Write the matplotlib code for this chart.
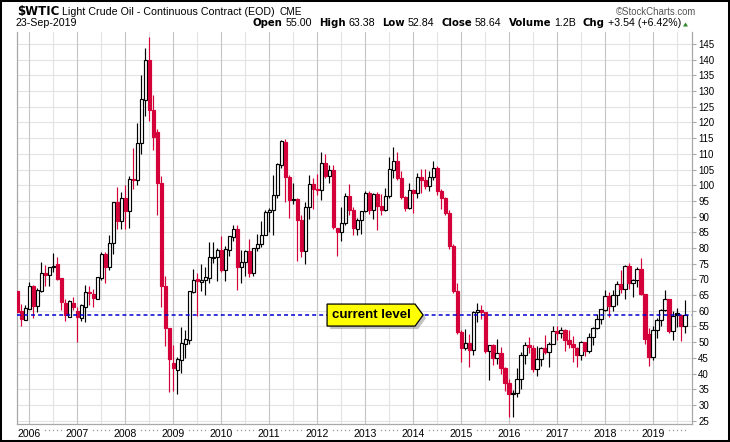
import matplotlib
matplotlib.use("Agg")
import matplotlib.pyplot as plt
from matplotlib.patches import Polygon, Rectangle
from matplotlib.transforms import IdentityTransform
import numpy as np
import pandas as pd

# ---------------- data ----------------
symbol = "$WTIC"
title = "Light Crude Oil - Continuous Contract (EOD)"
exchange = "CME"
credit = "\u00a9StockCharts.com"
date_label = "23-Sep-2019"
stat_labels = ["Open", "High", "Low", "Close", "Volume", "Chg"]
stat_values = ["55.00", "63.38", "52.84", "58.64", "1.2B", "+3.54 (+6.42%)"]
first_month = "2005-10"
year_labels = [str(y) for y in range(2006, 2020)]
ytick_values = list(range(25, 150, 5))
current_level = 58.64
callout_text = "current level"

opens = [
    66.2, 59.8, 57.0,
    60.6, 67.9, 61.4, 66.2, 72.0, 71.3, 73.9, 74.9, 70.3, 62.4, 58.1, 62.4,
    60.0, 57.6, 61.3, 65.9, 65.5, 63.7, 70.4, 78.0, 74.0, 81.6, 94.5, 88.7,
    96.0, 91.8, 101.8, 101.6, 113.5, 127.0, 140.0, 124.1, 117.0, 100.6, 67.8, 54.4,
    43.5, 41.2, 44.3, 49.3, 50.7, 66.1, 70.0, 69.2, 69.7, 70.4, 76.7, 77.1,
    79.4, 72.9, 79.4, 83.6, 86.0, 74.0, 75.6, 79.0, 71.9, 80.0, 81.4, 84.1,
    91.4, 92.2, 97.0, 106.4, 113.7, 102.7, 95.4, 95.7, 88.8, 79.2, 93.2, 100.4,
    98.8, 98.5, 107.1, 103.0, 104.9, 86.5, 85.0, 88.1, 96.5, 92.2, 86.2, 88.9,
    91.8, 97.5, 92.1, 97.2, 93.5, 92.0, 96.6, 105.0, 107.7, 102.3, 96.4, 92.7,
    98.4, 97.5, 102.6, 101.6, 99.7, 102.7, 105.4, 98.2, 96.0, 91.2, 80.5, 66.2,
    53.3, 48.2, 49.8, 47.6, 59.6, 60.3, 59.5, 47.1, 49.2, 45.1, 46.6, 41.7,
    37.0, 33.6, 33.8, 38.3, 45.9, 49.1, 48.3, 41.6, 44.7, 48.2, 46.9, 49.4,
    53.7, 52.8, 54.0, 50.6, 49.3, 48.3, 46.0, 50.2, 47.2, 51.7, 54.4, 57.4,
    60.4, 64.7, 61.6, 64.9, 68.6, 67.0, 74.2, 68.8, 69.8, 73.3, 65.3, 52.5,
    45.4, 53.8, 57.2, 60.1, 63.9, 53.5, 59.2, 58.6, 55.0,
]
highs = [
    66.6, 62.1, 61.9,
    69.2, 68.2, 67.1, 75.4, 74.7, 74.0, 78.4, 77.1, 70.4, 63.9, 63.4, 64.3,
    61.1, 62.3, 68.1, 67.9, 66.9, 70.7, 78.8, 78.8, 84.1, 94.7, 99.3, 97.8,
    100.1, 103.0, 111.8, 119.9, 135.1, 143.7, 147.3, 128.6, 118.0, 103.0, 71.1, 54.5,
    49.0, 45.2, 54.7, 54.0, 66.4, 73.4, 72.1, 75.0, 74.0, 82.0, 82.0, 80.0,
    83.9, 80.5, 83.9, 87.2, 87.2, 79.4, 79.4, 82.8, 80.0, 84.4, 88.6, 92.0,
    92.6, 103.4, 107.0, 114.3, 114.7, 103.4, 100.6, 95.8, 90.5, 94.7, 103.4, 102.4,
    103.7, 110.6, 110.0, 106.4, 106.4, 86.5, 92.9, 97.4, 100.4, 93.0, 89.6, 91.8,
    98.2, 98.2, 97.4, 97.8, 97.3, 99.0, 108.9, 112.2, 110.7, 104.4, 96.6, 100.8,
    98.8, 104.0, 105.2, 105.2, 104.5, 107.7, 106.0, 98.9, 96.2, 92.0, 81.4, 69.0,
    54.0, 54.2, 52.5, 59.9, 62.6, 61.8, 59.6, 49.2, 49.5, 50.9, 48.4, 42.0,
    38.4, 34.7, 41.9, 46.8, 50.2, 51.7, 49.0, 48.8, 48.4, 52.2, 49.9, 55.0,
    55.2, 54.9, 54.3, 53.8, 52.0, 48.4, 50.4, 50.2, 52.9, 54.9, 59.1, 60.5,
    66.7, 66.0, 66.6, 69.6, 72.9, 74.5, 75.3, 70.2, 73.9, 76.9, 65.4, 54.6,
    55.1, 57.8, 60.7, 66.6, 63.9, 59.9, 60.9, 58.8, 63.38,
]
lows = [
    59.2, 55.2, 57.0,
    60.5, 57.6, 59.5, 65.9, 68.0, 68.0, 72.4, 69.9, 60.4, 56.6, 57.9, 60.2,
    49.9, 56.6, 56.5, 61.9, 61.2, 63.7, 69.8, 69.0, 73.0, 78.1, 86.0, 85.9,
    86.1, 86.5, 98.7, 100.1, 109.9, 122.1, 120.4, 111.3, 90.5, 61.3, 48.8, 34.0,
    34.5, 33.6, 40.2, 45.0, 49.3, 65.6, 58.3, 66.4, 65.0, 68.9, 75.2, 69.5,
    72.4, 69.5, 77.6, 82.1, 66.5, 69.0, 71.1, 70.8, 71.0, 79.0, 80.2, 84.0,
    85.1, 84.1, 96.0, 105.5, 94.6, 89.6, 94.0, 75.7, 77.1, 75.0, 89.2, 92.5,
    97.0, 95.4, 102.2, 100.7, 86.1, 77.3, 82.3, 87.4, 90.5, 84.1, 84.1, 84.6,
    91.6, 90.9, 89.3, 85.6, 90.4, 91.8, 96.0, 102.2, 101.6, 95.7, 91.8, 92.4,
    91.2, 96.0, 97.4, 98.9, 98.2, 101.7, 96.8, 92.5, 90.4, 79.8, 65.7, 52.7,
    43.6, 47.4, 42.0, 45.9, 56.5, 57.4, 46.7, 37.8, 42.6, 43.2, 40.0, 34.5,
    26.2, 26.1, 32.5, 35.2, 43.0, 46.7, 40.6, 39.2, 42.5, 46.3, 42.2, 49.4,
    50.7, 51.2, 47.1, 48.2, 43.8, 42.1, 44.3, 45.6, 46.4, 49.1, 54.2, 55.8,
    59.8, 58.1, 60.0, 62.0, 65.8, 63.6, 67.0, 64.4, 67.5, 64.9, 49.4, 42.4,
    44.4, 51.2, 55.1, 60.0, 53.0, 50.6, 54.7, 50.5, 52.84,
]
closes = [
    59.76, 57.32, 61.04,
    67.92, 61.41, 66.63, 71.88, 71.29, 73.93, 74.40, 70.26, 62.91, 58.73, 63.13, 61.05,
    58.14, 61.79, 65.87, 65.71, 64.01, 70.68, 78.21, 74.04, 81.66, 94.53, 88.71, 95.98,
    91.75, 101.84, 101.58, 113.46, 127.35, 140.00, 124.08, 115.46, 100.64, 67.81, 54.43, 44.60,
    41.68, 44.76, 49.66, 51.12, 66.31, 69.89, 69.45, 69.96, 70.61, 77.00, 77.28, 79.36,
    72.89, 79.66, 83.76, 86.15, 73.97, 75.63, 78.95, 71.92, 79.97, 81.43, 84.11, 91.38,
    92.19, 96.97, 106.72, 113.93, 102.70, 95.42, 95.70, 88.81, 79.20, 93.19, 100.36, 98.83,
    98.48, 107.07, 103.02, 104.87, 86.53, 84.96, 88.06, 96.47, 92.19, 86.24, 88.91, 91.82,
    97.49, 92.05, 97.23, 93.46, 91.97, 96.56, 105.03, 107.65, 102.33, 96.38, 92.72, 98.42,
    97.49, 102.59, 101.58, 99.74, 102.71, 105.37, 98.17, 95.96, 91.16, 80.54, 66.15, 53.27,
    48.24, 49.76, 47.60, 59.63, 60.30, 59.47, 47.12, 49.20, 45.09, 46.59, 41.65, 37.04,
    33.62, 33.75, 38.34, 45.92, 49.10, 48.33, 41.60, 44.70, 48.24, 46.86, 49.44, 53.72,
    52.81, 54.01, 50.60, 49.33, 48.32, 46.04, 50.17, 47.23, 51.67, 54.38, 57.40, 60.42,
    64.73, 61.64, 64.94, 68.57, 67.04, 74.15, 68.76, 69.80, 73.25, 65.31, 50.93, 45.41,
    53.79, 57.22, 60.14, 63.91, 53.50, 58.47, 58.58, 55.10, 58.64,
]

# ---------------- figure ----------------
W, H = 730, 442
fig = plt.figure(figsize=(W / 100, H / 100), dpi=100)
fig.patch.set_facecolor("white")

REG = "Liberation Sans"
BOLD = "DejaVu Sans"
RED = "#D4003A"

ax_l, ax_r, ax_t, ax_b = 17, 692, 32, 424
ax = fig.add_axes([ax_l / W, 1 - ax_b / H, (ax_r - ax_l) / W, (ax_b - ax_t) / H])
ax.set_facecolor("white")

periods = pd.period_range(first_month, periods=len(closes), freq="M")
idx = np.arange(len(closes))
o = np.array(opens); h = np.array(highs); l = np.array(lows); c = np.array(closes)
prev = np.concatenate([[o[0]], c[:-1]])

ax.set_xlim(-0.05, 168.75)
ax.set_ylim(23.94, 148.8)

# grid
year_pos = [i for i, p in enumerate(periods) if p.month == 1]
half_pos = [i for i, p in enumerate(periods) if p.month == 7]
for y in ytick_values:
    ax.axhline(y, color="#e3e3e3", lw=0.8, zorder=0)
for x in half_pos:
    ax.axvline(x, color="#e3e3e3", lw=0.8, zorder=0)
for x in year_pos:
    ax.axvline(x, color="#c4c4c4", lw=0.8, zorder=0.5)

# candles
up_day = c >= prev
hollow = c >= o
edge = np.where(up_day, "black", RED)
face = [("white" if hol else col) for hol, col in zip(hollow, edge)]
ax.vlines(idx, l, h, colors=edge, lw=0.85, zorder=2)
body_bottom = np.minimum(o, c)
body_h = np.maximum(np.abs(c - o), 0.25)
ax.bar(idx, body_h, bottom=body_bottom, width=0.78, color=face,
       edgecolor=edge, linewidth=0.85, zorder=3)

# current level dashed line
ax.axhline(current_level, color="#0000d0", lw=1.1, dashes=(2.6, 2.0), zorder=4)

# axes styling
for s in ["top"]:
    ax.spines[s].set_visible(False)
for s in ["left", "bottom", "right"]:
    ax.spines[s].set_color("#a8a8a8")
    ax.spines[s].set_linewidth(0.9)
ax.yaxis.tick_right()
ax.set_yticks(ytick_values)
ax.set_yticklabels([str(v) for v in ytick_values], fontsize=7, family=REG)
ax.tick_params(axis="y", length=3, width=0.8, color="#a8a8a8", pad=1.5)
ax.set_xticks(year_pos)
ax.set_xticklabels(year_labels, fontsize=7.6, family=REG)
ax.tick_params(axis="x", length=0, pad=3.5)
for t in ax.get_xticklabels():
    t.set_bbox(dict(facecolor="white", edgecolor="none", pad=0.6))
# monthly dots under the axis
ax.plot(idx, np.full(len(idx), -6.0 / (ax_b - ax_t)), ls="none", marker="s",
        ms=0.9, mew=0, color="#9a9a9a", transform=ax.get_xaxis_transform(),
        clip_on=False, zorder=1)

# callout
fig.canvas.draw()
tip_x, tip_y = ax.transData.transform((101.5, current_level))
half_h, depth, length = 11, 8, 96
left = tip_x - length
flat = tip_x - depth
verts = [(left, tip_y + half_h), (flat, tip_y + half_h), (tip_x, tip_y),
         (flat, tip_y - half_h), (left, tip_y - half_h)]
shadow = Polygon([(x + 3, y - 3) for x, y in verts], closed=True,
                 facecolor="#9a9a9a", edgecolor="none", alpha=0.6,
                 transform=IdentityTransform(), zorder=5)
box = Polygon(verts, closed=True, facecolor="#FFFF00", edgecolor="black",
              lw=0.9, transform=IdentityTransform(), zorder=6)
fig.add_artist(shadow)
fig.add_artist(box)
fig.text((left + flat) / 2 / W, tip_y / H, callout_text, ha="center", va="center",
         fontsize=9.5, fontweight="bold", family=REG, zorder=7)

# header
renderer = fig.canvas.get_renderer()


def put(x, ybase, s, **kw):
    t = fig.text(x / W, 1 - ybase / H, s, va="baseline", ha="left",
                 parse_math=False, **kw)
    bb = t.get_window_extent(renderer)
    return x + bb.width


x = 17
x = put(x, 15, symbol, fontsize=8.5, fontweight="bold", family=BOLD)
x = put(x + 3, 15, title, fontsize=7.7, family=REG)
put(x + 4, 15, exchange, fontsize=7.2, family=REG)
t = fig.text(696 / W, 1 - 15 / H, credit, ha="right", va="baseline",
             fontsize=6.9, family=REG, color="#555555")
put(16, 26.5, date_label, fontsize=7.7, family=REG)

# right-aligned stats line: measure first
pieces = []
for i, (lab, val) in enumerate(zip(stat_labels, stat_values)):
    pieces.append((lab, dict(fontsize=7.3, fontweight="bold", family=BOLD), 3))
    pieces.append((val, dict(fontsize=7.7, family=REG), 7))
widths = []
for s, kw, g in pieces:
    tt = fig.text(0, 0, s, parse_math=False, **kw)
    widths.append(tt.get_window_extent(renderer).width)
    tt.remove()
total = sum(widths) + sum(g for _, _, g in pieces[:-1])
x = 681 - total
for (s, kw, g), w in zip(pieces, widths):
    put(x, 26.5, s, **kw)
    x += w + g
tri = Polygon([(683, H - 26.5), (688, H - 26.5), (685.5, H - 22.5)], closed=True,
              facecolor="#2a8a2a", edgecolor="none", transform=IdentityTransform())
fig.add_artist(tri)

# outer frame
fig.add_artist(Rectangle((0, 0), 1, 1, transform=fig.transFigure, fill=False,
                         edgecolor="black", lw=2.9, zorder=10))

fig.savefig("out.png", dpi=100, facecolor="white")
